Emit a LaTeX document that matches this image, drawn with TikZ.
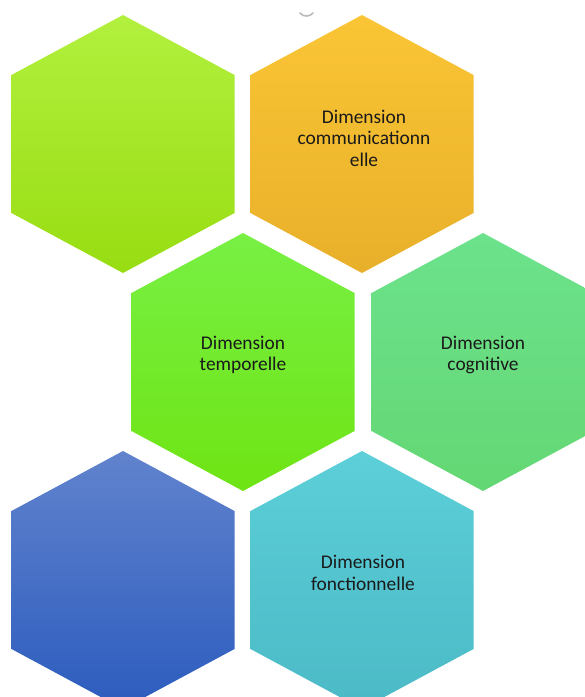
\documentclass[tikz,border=0pt]{standalone}
\usepackage{fontspec}
\setmainfont{Carlito}
\definecolor{txt}{HTML}{1A1A1A}
\definecolor{limeT}{HTML}{B2F03E}
\definecolor{limeB}{HTML}{98DD12}
\definecolor{orT}{HTML}{FAC535}
\definecolor{orB}{HTML}{E8B02A}
\definecolor{grT}{HTML}{78F044}
\definecolor{grB}{HTML}{6EE414}
\definecolor{mgT}{HTML}{6CE28C}
\definecolor{mgB}{HTML}{64D774}
\definecolor{blT}{HTML}{6183CD}
\definecolor{blB}{HTML}{2C5CBE}
\definecolor{cyT}{HTML}{5CCFD8}
\definecolor{cyB}{HTML}{4BBAC6}
\tikzset{
  lbl/.style={font=\fontsize{19.4}{21.5}\selectfont, text=txt, align=center, inner sep=0pt},
}
\newcommand{\hexcell}[4]{%
  \shade[top color=#3, bottom color=#4]
    (#1,#2) -- (#1+111.5,#2+60) -- (#1+111.5,#2+198) -- (#1,#2+258)
    -- (#1-111.5,#2+198) -- (#1-111.5,#2+60) -- cycle;}
\begin{document}
\begin{tikzpicture}[x=1pt,y=-1pt]
\useasboundingbox (0,0) rectangle (585,697);
\clip (0,0) rectangle (585,697);
\fill[white] (0,0) rectangle (585,697);
% row 1
\hexcell{123}{15}{limeT}{limeB}
\hexcell{362}{15}{orT}{orB}
% row 2
\hexcell{243}{233}{grT}{grB}
\hexcell{483}{233}{mgT}{mgB}
% row 3
\hexcell{123}{451}{blT}{blB}
\hexcell{362}{451}{cyT}{cyB}
% small grey mark at the top
\draw[gray!55, line width=1.6pt, line cap=round] (300,13) .. controls (303,17) and (310,17) .. (313,13);
% labels
\node[lbl] (comm) at (364,138) {Dimension\\communicationn\\elle};
\node[lbl] (temp) at (243,355) {Dimension\\temporelle};
\node[lbl] (cogn) at (483,355) {Dimension\\cognitive};
\node[lbl] (fonc) at (363,573) {Dimension\\fonctionnelle};
\end{tikzpicture}
\end{document}
